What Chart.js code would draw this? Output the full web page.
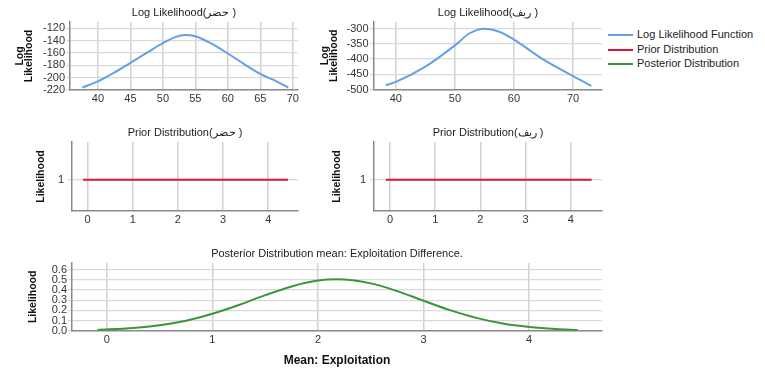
<!DOCTYPE html>
<html>
<head>
<meta charset="utf-8">
<script src="https://cdn.jsdelivr.net/npm/chart.js@4.4.1/dist/chart.umd.min.js"></script>
<style>
  body { margin: 0; background: #fff; }
  #wrap { position: relative; width: 765px; height: 370px; overflow: hidden; }
  #wrap canvas { position: absolute; }
  .legend { position: absolute; left: 608px; top: 27px; font: 11px 'Liberation Sans', Arial, sans-serif; color: #222; }
  .legend div { height: 14.5px; line-height: 14.5px; white-space: nowrap; }
  .legend span.swatch { display: inline-block; width: 25px; height: 2px; vertical-align: middle; margin-right: 4px; }
</style>
</head>
<body>
<div id="wrap">
  <canvas id="llA" width="305" height="108" style="left:0;top:0"></canvas>
  <canvas id="llB" width="300" height="108" style="left:305px;top:0"></canvas>
  <canvas id="priorA" width="305" height="115" style="left:0;top:115px"></canvas>
  <canvas id="priorB" width="300" height="115" style="left:305px;top:115px"></canvas>
  <canvas id="post" width="610" height="130" style="left:0;top:240px"></canvas>
  <div class="legend">
    <div><span class="swatch" style="background:#64a0e6"></span>Log Likelihood Function</div>
    <div><span class="swatch" style="background:#dc143c"></span>Prior Distribution</div>
    <div><span class="swatch" style="background:#3a963a"></span>Posterior Distribution</div>
  </div>
</div>
<script>
// log likelihood, urban group
const llX1 = [37.6, 40, 42.5, 45, 47.5, 50, 52, 53.4, 55, 57.5, 60, 62.5, 65, 67.5, 69.3];
const llY1 = [-216, -206, -192, -176, -160, -144, -134, -131, -133, -145, -161, -178, -194, -206, -216];
const llTicksX1 = [40, 45, 50, 55, 60, 65, 70];
const llTicksY1 = [-120, -140, -160, -180, -200, -220];

// log likelihood, rural group
const llX2 = [38.3, 40, 45, 50, 52.5, 55, 57.5, 60, 65, 70, 73.1];
const llY2 = [-486, -475, -425, -355, -315, -300, -310, -336, -402, -456, -488];
const llTicksX2 = [40, 50, 60, 70];
const llTicksY2 = [-300, -350, -400, -450, -500];

// priors (flat)
const priorX1 = [-0.1, 4.44];
const priorX2 = [-0.09, 4.46];
const priorY = [1, 1];
const priorTicksX = [0, 1, 2, 3, 4];
const priorTicksY = [1];

// posterior of the mean difference
const postX = [-0.09, 0.25, 0.5, 0.75, 1, 1.25, 1.5, 1.75, 2, 2.18, 2.5, 2.75, 3, 3.25, 3.5, 3.75, 4, 4.25, 4.46];
const postY = [0.008, 0.026, 0.053, 0.098, 0.166, 0.252, 0.349, 0.435, 0.492, 0.505, 0.465, 0.389, 0.294, 0.202, 0.126, 0.070, 0.036, 0.016, 0.008];
const postTicksX = [0, 1, 2, 3, 4];
const postTicksY = [0, 0.1, 0.2, 0.3, 0.4, 0.5, 0.6];

const BLUE = '#64a0e6', RED = '#dc143c', GREEN = '#3a963a';
const FONT = "'Liberation Sans', Arial, sans-serif";

// title centred over the plot area, like the SPSS panels
const panelTitle = {
    id: 'panelTitle',
    afterDraw(chart, args, opts) {
        const { ctx, chartArea } = chart;
        ctx.save();
        ctx.font = '11px ' + FONT;
        ctx.fillStyle = '#222';
        ctx.textAlign = 'center';
        ctx.textBaseline = 'middle';
        ctx.fillText(opts.text, (chartArea.left + chartArea.right) / 2, opts.y);
        ctx.restore();
    }
};

function panel(id, o) {
    return new Chart(document.getElementById(id), {
        type: 'line',
        data: {
            datasets: [{
                data: o.xs.map((x, i) => ({ x: x, y: o.ys[i] })),
                borderColor: o.color,
                borderWidth: 2,
                pointRadius: 0,
                cubicInterpolationMode: 'monotone',
                fill: false
            }]
        },
        options: {
            responsive: false,
            animation: false,
            layout: { padding: { top: o.padTop, right: o.padRight, left: 0, bottom: 0 } },
            plugins: {
                legend: { display: false },
                tooltip: { enabled: false },
                panelTitle: { text: o.title, y: o.titleY }
            },
            scales: {
                x: {
                    type: 'linear',
                    min: o.xMin,
                    max: o.xMax,
                    afterBuildTicks: s => { s.ticks = o.xTicks.map(v => ({ value: v })); },
                    afterFit: s => { s.height = o.xH; },
                    grid: { color: '#d2d2d2', lineWidth: 1.5, drawTicks: false },
                    border: { color: '#8a8a8a', width: 1.5 },
                    ticks: { color: '#333', padding: 2.5, autoSkip: false, maxRotation: 0, font: { family: FONT, size: 11 } },
                    title: o.xTitle ? {
                        display: true,
                        text: o.xTitle,
                        color: '#111',
                        padding: { top: 0, bottom: 1.8 },
                        font: { family: FONT, size: 12, weight: 'bold' }
                    } : { display: false }
                },
                y: {
                    min: o.yMin,
                    max: o.yMax,
                    afterBuildTicks: s => { s.ticks = o.yTicks.map(v => ({ value: v })); },
                    afterFit: s => { s.width = o.yW; },
                    grid: { color: '#d9d9d9', lineWidth: 1.2, tickLength: 4 },
                    border: { color: '#8a8a8a', width: 1.5 },
                    ticks: {
                        color: '#333',
                        padding: o.yPad,
                        autoSkip: false,
                        font: { family: FONT, size: 11 },
                        callback: o.yFmt || (v => v)
                    },
                    title: {
                        display: true,
                        text: o.yTitle,
                        color: '#111',
                        padding: { top: o.yTitlePad, bottom: 0 },
                        font: { family: FONT, size: 10.5, weight: 'bold', lineHeight: o.yTitleLH }
                    }
                }
            }
        },
        plugins: [panelTitle]
    });
}

panel('llA', {
    xs: llX1, ys: llY1, color: BLUE,
    title: 'Log Likelihood(حضر )', titleY: 13,
    padTop: 22, padRight: 7, xH: 18, yW: 70, yPad: 1,
    xMin: 35.7, xMax: 70.8, xTicks: llTicksX1,
    yMin: -220, yMax: -110, yTicks: llTicksY1,
    yTitle: ['Log', 'Likelihood'], yTitlePad: 16, yTitleLH: 0.85
});

panel('llB', {
    xs: llX2, ys: llY2, color: BLUE,
    title: 'Log Likelihood(ريف )', titleY: 13,
    padTop: 22, padRight: 3, xH: 18.5, yW: 69, yPad: 1.5,
    xMin: 36.3, xMax: 74.9, xTicks: llTicksX2,
    yMin: -500, yMax: -278, yTicks: llTicksY2,
    yTitle: ['Log', 'Likelihood'], yTitlePad: 15.7, yTitleLH: 0.85
});

panel('priorA', {
    xs: priorX1, ys: priorY, color: RED,
    title: 'Prior Distribution(حضر )', titleY: 18,
    padTop: 27, padRight: 7, xH: 19, yW: 72, yPad: 4,
    xMin: -0.345, xMax: 4.66, xTicks: priorTicksX,
    yMin: 0, yMax: 2.2, yTicks: priorTicksY,
    yTitle: 'Likelihood', yTitlePad: 36, yTitleLH: 1
});

panel('priorB', {
    xs: priorX2, ys: priorY, color: RED,
    title: 'Prior Distribution(ريف )', titleY: 18,
    padTop: 27, padRight: 3, xH: 19, yW: 69, yPad: 4,
    xMin: -0.354, xMax: 4.69, xTicks: priorTicksX,
    yMin: 0, yMax: 2.2, yTicks: priorTicksY,
    yTitle: 'Likelihood', yTitlePad: 27.3, yTitleLH: 1
});

panel('post', {
    xs: postX, ys: postY, color: GREEN,
    title: 'Posterior Distribution mean: Exploitation Difference.', titleY: 14,
    padTop: 23, padRight: 8, xH: 39.3, yW: 72, yPad: 1,
    xMin: -0.33, xMax: 4.69, xTicks: postTicksX,
    yMin: 0, yMax: 0.665, yTicks: postTicksY,
    yFmt: v => v.toFixed(1),
    xTitle: 'Mean: Exploitation',
    yTitle: 'Likelihood', yTitlePad: 28, yTitleLH: 1
});
</script>
</body>
</html>
